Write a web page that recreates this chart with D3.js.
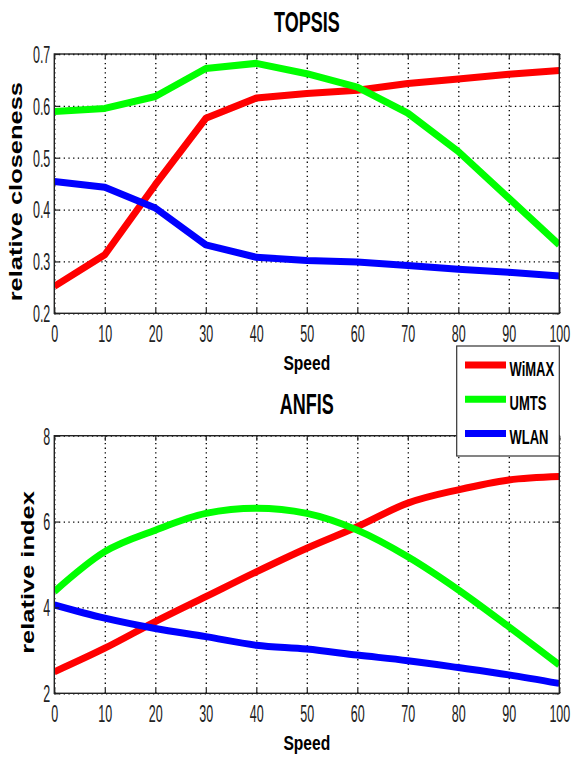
<!DOCTYPE html>
<html lang="en">
<head>
  <meta charset="UTF-8">
  <title>TOPSIS / ANFIS</title>
  <script src="https://d3js.org/d3.v7.min.js"></script>
  <style>
    body { margin:0; background:#fff; }
    svg { display:block; }
    text { font-family: "Liberation Sans", Arial, sans-serif; }
  </style>
</head>
<body>
  <svg width="571" height="758"></svg>
  <script>
    // speed values (x axis, both panels)
    const speed = [0, 10, 20, 30, 40, 50, 60, 70, 80, 90, 100]
    const networks = ['WiMAX', 'UMTS', 'WLAN']
    const colors = ['#ff0000', '#00ff00', '#0000ff']

    // TOPSIS relative closeness
    const topsisWimax = [0.252, 0.313, 0.448, 0.576, 0.615, 0.624, 0.630, 0.643, 0.652, 0.661, 0.668]
    const topsisUmts = [0.589, 0.595, 0.618, 0.672, 0.682, 0.662, 0.636, 0.586, 0.512, 0.422, 0.332]
    const topsisWlan = [0.454, 0.443, 0.403, 0.332, 0.308, 0.302, 0.299, 0.292, 0.285, 0.279, 0.272]

    // ANFIS relative index
    const anfisWimax = [2.50, 3.05, 3.67, 4.25, 4.83, 5.38, 5.88, 6.43, 6.74, 6.97, 7.05]
    const anfisUmts = [4.37, 5.30, 5.80, 6.19, 6.31, 6.19, 5.80, 5.18, 4.41, 3.55, 2.66]
    const anfisWlan = [4.06, 3.75, 3.51, 3.32, 3.12, 3.03, 2.89, 2.76, 2.60, 2.43, 2.23]

    const xTicks = [0, 10, 20, 30, 40, 50, 60, 70, 80, 90, 100]
    const topsisTicks = [0.2, 0.3, 0.4, 0.5, 0.6, 0.7]
    const anfisTicks = [2, 4, 6, 8]

    const svg = d3.select('svg')
    const left = 54.3
    const right = 559.3

    // stretched text (the picture is squashed horizontally)
    function stretchText (g, str, x, y, o) {
      const rot = o.rotate ? ' rotate(-90) scale(' + o.s + ',1)' : ' scale(1,' + o.s + ')'
      return g.append('text')
        .attr('transform', 'translate(' + x + ',' + y + ')' + rot)
        .attr('text-anchor', o.anchor || 'middle')
        .attr('font-size', o.size)
        .attr('font-weight', o.weight || 'normal')
        .attr('fill', o.fill || '#000')
        .text(str)
    }

    function panel (id, top, bottom, domain, yTicks, yFmt, series, title, yLabel, yLabelX, curve) {
      const g = svg.append('g')
      const x = d3.scaleLinear().domain([0, 100]).range([left, right])
      const y = d3.scaleLinear().domain(domain).range([bottom, top])
      const w = right - left
      const h = bottom - top

      // dotted grid
      g.append('g')
        .attr('transform', 'translate(0,' + bottom + ')')
        .call(d3.axisBottom(x).tickValues(xTicks).tickSize(-h).tickFormat(''))
        .call(s => s.select('.domain').remove())
        .selectAll('line').attr('class', 'grid')
      g.append('g')
        .attr('transform', 'translate(' + left + ',0)')
        .call(d3.axisLeft(y).tickValues(yTicks).tickSize(-w).tickFormat(''))
        .call(s => s.select('.domain').remove())
        .selectAll('line').attr('class', 'grid')
      g.selectAll('line.grid')
        .attr('stroke', '#000').attr('stroke-width', 1.3).attr('stroke-dasharray', '1.3,3.4')

      // data lines
      g.append('clipPath').attr('id', id)
        .append('rect').attr('x', left).attr('y', top).attr('width', w).attr('height', h)
      const line = d3.line().x((d, i) => x(speed[i])).y(d => y(d)).curve(curve)
      series.forEach((s, i) => {
        g.append('path')
          .attr('clip-path', 'url(#' + id + ')')
          .attr('d', line(s))
          .attr('fill', 'none')
          .attr('stroke', colors[i])
          .attr('stroke-width', 7)
          .attr('stroke-linejoin', 'round')
      })

      // inward ticks on all sides
      const tk = 5
      const bx = g.append('g').attr('transform', 'translate(0,' + bottom + ')')
        .call(d3.axisBottom(x).tickValues(xTicks).tickSize(-tk).tickPadding(0))
      bx.selectAll('.tick text')
        .attr('y', null).attr('dy', null)
        .attr('transform', 'translate(0,28.5) scale(1,1.85)')
        .attr('font-size', 12.5).attr('fill', '#222')
      g.append('g').attr('transform', 'translate(0,' + top + ')')
        .call(d3.axisTop(x).tickValues(xTicks).tickSize(-tk).tickFormat(''))
      const ly = g.append('g').attr('transform', 'translate(' + left + ',0)')
        .call(d3.axisLeft(y).tickValues(yTicks).tickSize(-tk).tickFormat(yFmt))
      ly.selectAll('.tick text')
        .attr('x', null).attr('dy', null)
        .attr('text-anchor', 'end')
        .attr('transform', 'translate(-4,8.3) scale(1,1.85)')
        .attr('font-size', 12.5).attr('fill', '#222')
      g.append('g').attr('transform', 'translate(' + right + ',0)')
        .call(d3.axisRight(y).tickValues(yTicks).tickSize(-tk).tickFormat(''))
      g.selectAll('.domain').attr('stroke', 'none')
      g.selectAll('.tick line:not(.grid)').attr('stroke', '#222').attr('stroke-width', 1.2)

      // frame
      g.append('rect')
        .attr('x', left).attr('y', top).attr('width', w).attr('height', h)
        .attr('fill', 'none').attr('stroke', '#222').attr('stroke-width', 1.4)

      stretchText(g, title, (left + right) / 2, top - 22, { size: 18, s: 1.65, weight: 'bold' })
      stretchText(g, 'Speed', (left + right) / 2, bottom + 57, { size: 15.6, s: 1.34, weight: 'bold' })
      stretchText(g, yLabel, yLabelX, (top + bottom) / 2 + 8, { size: 19, s: 1.34, weight: 'bold', rotate: true })
    }

    panel('clipTop', 54, 313.3, [0.2, 0.7], topsisTicks, d3.format('.1f'),
      [topsisWimax, topsisUmts, topsisWlan], 'TOPSIS', 'relative closeness', 21.5, d3.curveLinear)
    panel('clipBottom', 435.7, 693.3, [2, 8], anfisTicks, d3.format('d'),
      [anfisWimax, anfisUmts, anfisWlan], 'ANFIS', 'relative index', 34, d3.curveMonotoneX)

    // legend
    const lg = svg.append('g')
    lg.append('rect')
      .attr('x', 456.7).attr('y', 346).attr('width', 102.6).attr('height', 110)
      .attr('fill', '#fff').attr('stroke', '#333').attr('stroke-width', 1.2)
    networks.forEach((n, i) => {
      const ly = 365 + i * 34.2
      lg.append('line')
        .attr('x1', 465).attr('x2', 506).attr('y1', ly).attr('y2', ly)
        .attr('stroke', colors[i]).attr('stroke-width', 7)
      stretchText(lg, n, 509.5, ly + 11, { size: 13, s: 1.6, weight: 'bold', anchor: 'start' })
    })
  </script>
</body>
</html>
